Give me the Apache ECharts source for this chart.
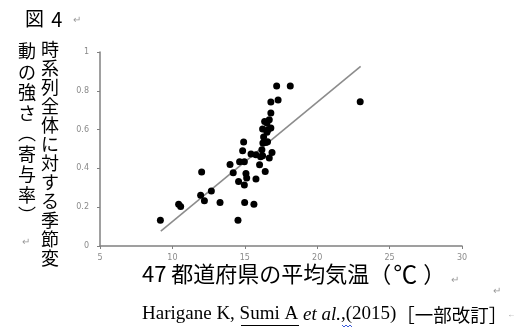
<!DOCTYPE html>
<html>
<head>
<meta charset="utf-8">
<script src="https://cdn.jsdelivr.net/npm/echarts@6/dist/echarts.min.js"></script>
<style>
html, body { margin: 0; padding: 0; background: #fff; }
#main { width: 518px; height: 328px; }
</style>
</head>
<body>
<div id="main"></div>
<script>
// mean temperature of each prefecture (x) and seasonal contribution ratio (y)
var temp = [9.17, 10.43, 10.57, 12.02, 11.95, 12.21, 12.69, 13.29, 13.98, 14.2,
    14.53, 14.64, 14.57, 14.92, 14.85, 14.97, 15.08, 14.97, 15.13, 14.99,
    15.43, 15.77, 15.77, 15.63, 16.02, 16.09, 16.23, 16.41, 16.18, 16.25,
    16.46, 16.3, 16.23, 16.37, 16.53, 16.69, 16.62, 16.53, 16.8, 16.57,
    16.69, 16.88, 16.8, 16.8, 17.3, 17.2, 18.14, 22.97];
var ratio = [0.133, 0.215, 0.203, 0.382, 0.262, 0.233, 0.284, 0.224, 0.42, 0.378,
    0.133, 0.434, 0.332, 0.536, 0.491, 0.434, 0.374, 0.315, 0.35, 0.224,
    0.474, 0.47, 0.346, 0.215, 0.419, 0.46, 0.465, 0.384, 0.496, 0.531,
    0.534, 0.562, 0.603, 0.642, 0.634, 0.651, 0.6, 0.586, 0.608, 0.537,
    0.453, 0.482, 0.686, 0.742, 0.752, 0.825, 0.825, 0.743];

// linear trend line, ends
var trendX = [9.2, 23.0];
var trendY = [0.077, 0.926];

var yTitleRight = '時系列全体に対する季節変';
var yTitleLeft = '動の強さ︵寄与率︶';
var xTitle = '47 都道府県の平均気温';
var xUnit = '℃';

var points = temp.map(function (t, i) { return [t, ratio[i]]; });
var trend = trendX.map(function (t, i) { return [t, trendY[i]]; });

var myChart = echarts.init(document.getElementById('main'));

var jp = '"Noto Sans CJK JP", sans-serif';
var serif = '"Liberation Serif", serif';
var markColor = '#9a9a9a';

option = {
    animation: false,
    grid: { left: 100, right: 56, top: 52, bottom: 82 },
    xAxis: {
        type: 'value',
        min: 5, max: 30, interval: 5,
        splitLine: { show: false },
        axisLine: { lineStyle: { color: '#808080', width: 1.5 } },
        axisTick: { show: true, length: 3, lineStyle: { color: '#808080' } },
        axisLabel: { color: '#8a8a8a', fontSize: 8, margin: 8, fontFamily: 'DejaVu Sans' }
    },
    yAxis: {
        type: 'value',
        min: 0, max: 1, interval: 0.2,
        splitLine: { show: false },
        axisLine: { show: true, lineStyle: { color: '#808080', width: 1.5 } },
        axisTick: { show: true, length: 3, lineStyle: { color: '#808080' } },
        axisLabel: { color: '#8a8a8a', fontSize: 8, margin: 11, fontFamily: 'DejaVu Sans' }
    },
    series: [{
        type: 'line',
        data: trend,
        symbol: 'none',
        lineStyle: { color: '#8c8c8c', width: 1.6 },
        z: 1
    }, {
        type: 'scatter',
        data: points,
        symbolSize: 7,
        itemStyle: { color: '#000', opacity: 1 },
        z: 2
    }],
    graphic: [
        {
            type: 'text', left: 25, top: 9,
            style: {
                text: '{a|図} {b|4}',
                rich: {
                    a: { font: '19px ' + jp, fill: '#000', padding: [0, 4, 0, 0] },
                    b: { font: '20px ' + jp, fill: '#000' }
                }
            }
        },
        { type: 'text', left: 73, top: 15, style: { text: '↵', font: '10px sans-serif', fill: markColor } },
        { type: 'text', left: 41, top: 40, style: { text: yTitleRight.split('').join('\n'), font: '18px ' + jp, lineHeight: 19, fill: '#000' } },
        { type: 'text', left: 18, top: 41, style: { text: yTitleLeft.split('').join('\n'), font: '18px ' + jp, lineHeight: 20.5, fill: '#000' } },
        { type: 'text', left: 22, top: 237, style: { text: '↵', font: '10px sans-serif', fill: markColor } },
        {
            type: 'text', left: 142, top: 262,
            style: {
                text: '{k|' + xTitle + '}{k|（}{c|' + xUnit + '}{k|）}',
                rich: {
                    k: { font: '22px ' + jp, fill: '#000' },
                    c: { font: '24px ' + jp, fill: '#000', padding: [0, 6, 0, 2] }
                }
            }
        },
        { type: 'text', left: 451, top: 275, style: { text: '↵', font: '10px sans-serif', fill: markColor } },
        { type: 'text', left: 493, top: 286, style: { text: '↵', font: '10px sans-serif', fill: markColor } },
        {
            type: 'text', left: 142, top: 305,
            style: {
                text: '{n|Harigane K, Sumi A }{i|et al.}{n|,(2015)}{j|［一部改訂］}{m|←}',
                rich: {
                    n: { font: '19px ' + serif, fill: '#000' },
                    i: { font: 'italic 19px ' + serif, fill: '#000' },
                    j: { font: '18.5px ' + jp, fill: '#000' },
                    m: { font: '8px sans-serif', fill: markColor }
                }
            }
        },
        // underline under "Sumi A" and the spell-check squiggle
        { type: 'line', shape: { x1: 241, y1: 325.5, x2: 299, y2: 325.5 }, style: { stroke: '#000', lineWidth: 1 } },
        { type: 'polyline', shape: { points: [[342, 325], [344, 327], [346, 325], [348, 327], [350, 325], [352, 327]] }, style: { stroke: '#3a5bd9', lineWidth: 1, fill: null } }
    ]
};

myChart.setOption(option);
</script>
</body>
</html>
